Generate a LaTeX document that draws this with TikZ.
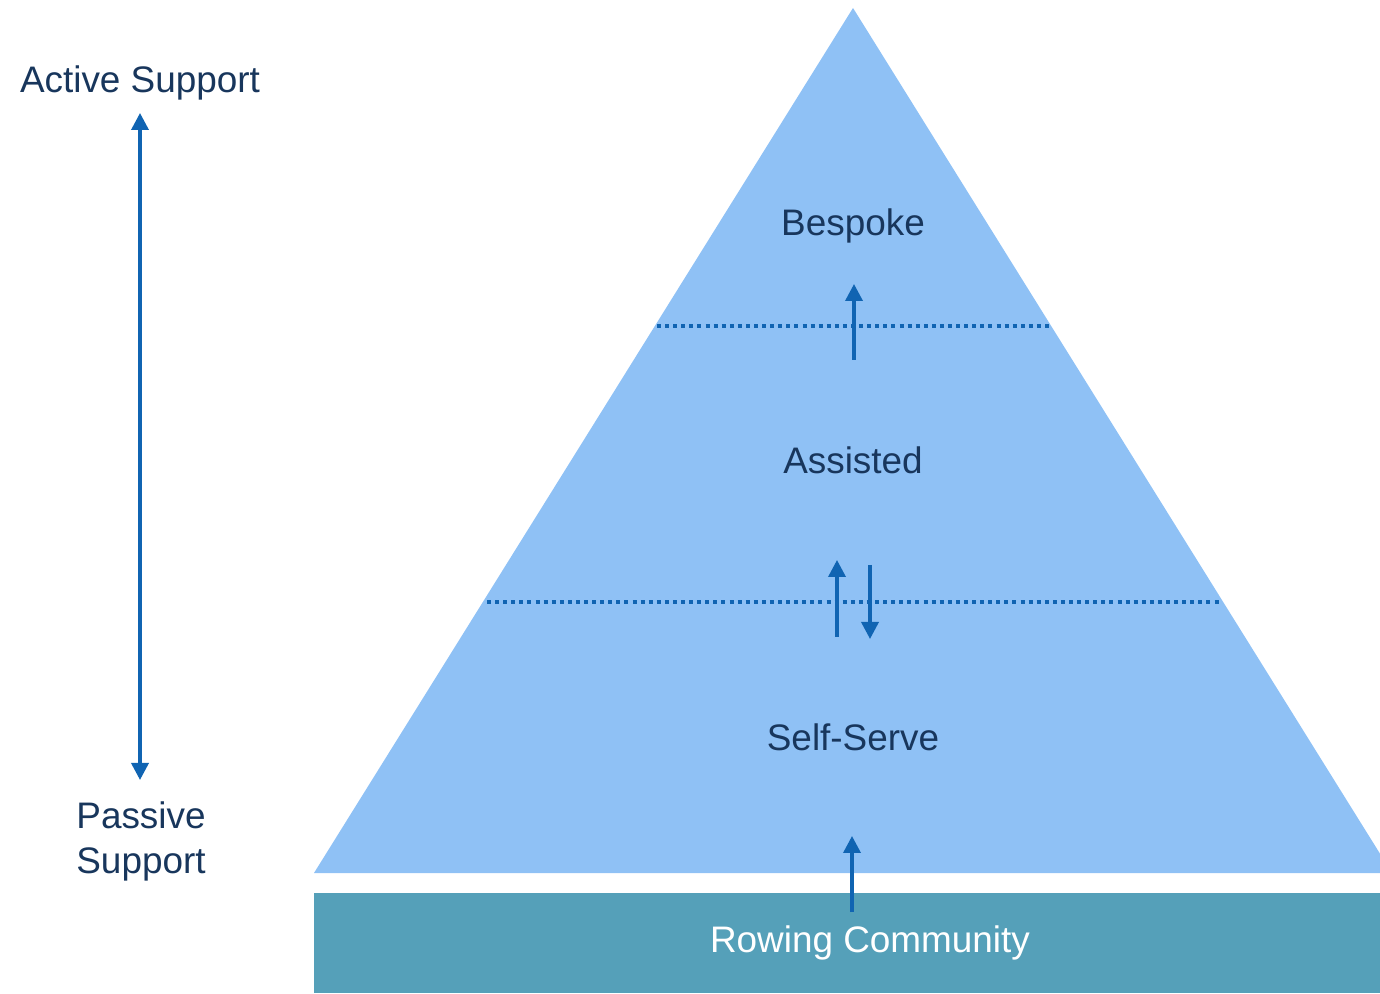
\documentclass[tikz,border=0pt]{standalone}
\usepackage{fontspec}
\setmainfont{Liberation Sans}
\usetikzlibrary{arrows.meta}
\definecolor{pyrblue}{RGB}{143,193,245}
\definecolor{commteal}{RGB}{85,160,185}
\definecolor{lblnavy}{RGB}{24,54,92}
\definecolor{arrblue}{RGB}{16,100,178}
\begin{document}
\begin{tikzpicture}[
  lbl/.style={text=lblnavy,font=\fontsize{10.5}{12.8}\selectfont,align=center,inner sep=0pt},
  arr/.style={draw=arrblue,line width=1pt,-{Triangle[width=0.17cm,length=0.17cm]}},
  lvl/.style={draw=arrblue,line width=1.1pt,dash pattern=on 1.15pt off 1.15pt}]
 \useasboundingbox (0,0) rectangle (13.8,9.93);
 % pyramid and base
 \fill[pyrblue] (3.14,1.20) -- (8.53,9.85) -- (13.8,1.393) -- (13.8,1.20) -- cycle;
 \fill[commteal] (3.14,0) rectangle (13.8,1.00);
 % labels
 \node (act) at (1.40,9.10) [lbl] {Active Support};
 \node (pas) at (1.41,1.52) [lbl] {Passive\\Support};
 \node (besp) at (8.53,7.67) [lbl] {Bespoke};
 \node (asst) at (8.53,5.33) [lbl] {Assisted};
 \node (self) at (8.53,2.56) [lbl] {Self-Serve};
 \node (comm) at (8.70,0.50) [lbl,text=white] {Rowing Community};
 % level lines
 \coordinate (lvl 1 l) at (6.57,6.67);
 \coordinate (lvl 1 r) at (10.52,6.67);
 \coordinate (lvl 2 l) at (4.87,3.91);
 \coordinate (lvl 2 r) at (12.22,3.91);
 \draw[lvl] (lvl 1 l) -- (lvl 1 r);
 \draw[lvl] (lvl 2 l) -- (lvl 2 r);
 % arrows
 \coordinate (sup top) at (1.40,8.80);
 \coordinate (sup bot) at (1.40,2.13);
 \coordinate (up 1 s) at (8.54,6.33);
 \coordinate (up 1 e) at (8.54,7.09);
 \coordinate (up 2 s) at (8.37,3.56);
 \coordinate (up 2 e) at (8.37,4.33);
 \coordinate (dn 2 s) at (8.70,4.28);
 \coordinate (dn 2 e) at (8.70,3.54);
 \coordinate (up 3 s) at (8.52,0.81);
 \coordinate (up 3 e) at (8.52,1.57);
 \draw[arr,{Triangle[width=0.17cm,length=0.17cm]}-{Triangle[width=0.17cm,length=0.17cm]}] (sup bot) -- (sup top);
 \draw[arr] (up 1 s) -- (up 1 e);
 \draw[arr] (up 2 s) -- (up 2 e);
 \draw[arr] (dn 2 s) -- (dn 2 e);
 \draw[arr] (up 3 s) -- (up 3 e);
\end{tikzpicture}
\end{document}
